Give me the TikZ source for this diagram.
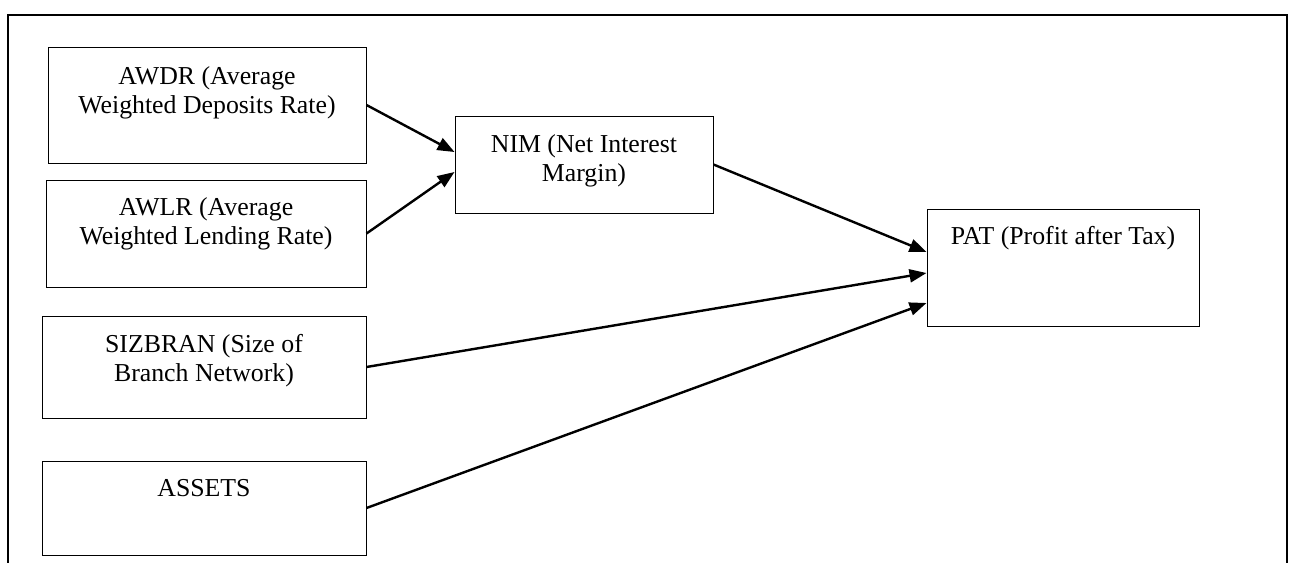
\documentclass[tikz,border=0pt]{standalone}
\usepackage{fontspec}
\setmainfont{Liberation Serif}
\usetikzlibrary{arrows.meta}
\begin{document}
\begin{tikzpicture}[x=1pt,y=-1pt,
  box/.style={draw, line width=1pt, inner sep=0pt},
  lbl/.style={anchor=base, align=center, inner sep=0pt, font=\fontsize{25.8}{29.5}\selectfont},
  link/.style={line width=2.4pt, -{Triangle[length=17pt,width=13pt]}}]
\useasboundingbox (0,0) rectangle (1292,562);
\fill[white] (0,0) rectangle (1292,562);
\draw[line width=2.2pt] (8,563) -- (8,15) -- (1287,15) -- (1287,563);
% boxes
\node[box, minimum width=318pt, minimum height=116pt] (awdr) at (207,105) {};
\node[box, minimum width=320pt, minimum height=107pt] (awlr) at (206,233.5) {};
\node[box, minimum width=324pt, minimum height=102pt] (siz) at (204,367) {};
\node[box, minimum width=324pt, minimum height=94pt] (assets) at (204,508) {};
\node[box, minimum width=258pt, minimum height=97pt] (nim) at (584,164.5) {};
\node[box, minimum width=272pt, minimum height=117pt] (pat) at (1063,267.5) {};
% labels (base anchor = last line)
\node[lbl] (awdrT) at ([yshift=-67pt]awdr.north) {AWDR (Average\\Weighted Deposits Rate)};
\node[lbl] (awlrT) at ([yshift=-65pt]awlr.north) {AWLR (Average\\Weighted Lending Rate)};
\node[lbl] (sizT) at ([yshift=-66pt]siz.north) {SIZBRAN (Size of\\Branch Network)};
\node[lbl] (assetsT) at ([yshift=-36pt]assets.north) {ASSETS};
\node[lbl] (nimT) at ([yshift=-66pt]nim.north) {NIM (Net Interest\\Margin)};
\node[lbl] (patT) at ([yshift=-36pt]pat.north) {PAT (Profit after Tax)};
% connectors
\draw[link] (awdr.east) -- ([yshift=12.5pt]nim.west);
\draw[link] (awlr.east) -- ([yshift=-7.5pt]nim.west);
\draw[link] (nim.east) -- ([yshift=15.5pt]pat.west);
\draw[link] (siz.east) -- ([yshift=-5.5pt]pat.west);
\draw[link] (assets.east) -- ([yshift=-35.5pt]pat.west);
\end{tikzpicture}
\end{document}
